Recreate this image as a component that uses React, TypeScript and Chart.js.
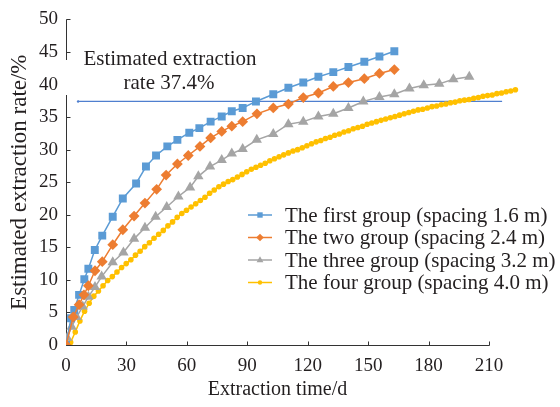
import React, { useEffect, useRef } from "react";
import { Chart, registerables } from "chart.js";

Chart.register(...registerables);

// ---------- data ----------
const xTickValues = [0, 30, 60, 90, 120, 150, 180, 210];
const yMin = 0;
const yMax = 50;
const yStep = 5;

const seriesNames = [
  "The first group (spacing 1.6 m)",
  "The two group (spacing 2.4 m)",
  "The three group (spacing 3.2 m)",
  "The four group (spacing 4.0 m)",
];

const blueDays = [0, 2.5, 4.1, 6.5, 9.1, 11.1, 14.3, 18.0, 23.2, 28.2, 34.8, 39.7, 44.7, 50.3, 55.3, 61.2, 66.2, 71.8, 77.3, 82.3, 87.7, 94.3, 102.9, 110.4, 117.8, 125.3, 132.7, 140.2, 148.1, 155.6, 163.0];
const blueRate = [0, 4.1, 5.4, 7.7, 10.1, 11.7, 14.6, 16.8, 19.7, 22.5, 24.8, 27.4, 29.1, 30.5, 31.5, 32.6, 33.3, 34.3, 35.1, 35.9, 36.4, 37.4, 38.5, 39.5, 40.3, 41.2, 41.9, 42.7, 43.5, 44.3, 45.1];

const orangeDays = [0, 3.6, 6.5, 8.9, 11.1, 14.4, 18.0, 23.2, 28.2, 33.8, 39.2, 45.0, 49.7, 55.3, 60.7, 66.5, 71.8, 77.3, 82.3, 87.7, 94.8, 102.9, 110.4, 117.8, 125.3, 132.7, 140.2, 148.1, 155.6, 163.0];
const orangeRate = [0, 4.3, 6.2, 7.7, 9.1, 11.4, 12.8, 15.4, 17.7, 19.8, 21.8, 23.9, 26.1, 27.8, 29.1, 30.5, 31.8, 32.8, 33.6, 34.3, 35.5, 36.4, 37.0, 38.0, 38.7, 39.7, 40.3, 40.9, 41.7, 42.3];

const grayDays = [0.6, 2.8, 5.3, 8.3, 11.1, 14.4, 17.7, 23.2, 28.5, 33.8, 39.2, 44.5, 50.0, 55.8, 61.6, 65.7, 71.5, 77.3, 82.3, 87.7, 94.7, 102.9, 110.4, 117.8, 125.3, 132.7, 140.2, 147.6, 155.6, 163.0, 170.5, 177.6, 185.3, 192.3, 200.2];
const grayRate = [1.1, 2.8, 4.3, 5.9, 7.4, 8.9, 10.5, 12.7, 14.2, 16.3, 18.0, 19.7, 21.2, 22.8, 24.2, 25.9, 27.4, 28.4, 29.4, 30.1, 31.5, 32.4, 33.9, 34.3, 35.1, 35.5, 36.4, 37.4, 38.1, 38.5, 39.4, 39.9, 40.1, 40.8, 41.2];

const yellowDays = [0, 2.3, 4.6, 6.9, 9.2, 11.5, 13.8, 16.1, 18.4, 20.7, 23, 25.3, 27.6, 29.9, 32.2, 34.5, 36.8, 39.1, 41.4, 43.7, 46, 48.3, 50.6, 52.9, 55.2, 57.5, 59.8, 62.1, 64.4, 66.7, 69, 71.3, 73.6, 75.9, 78.2, 80.5, 82.8, 85.1, 87.4, 89.7, 92, 94.3, 96.6, 98.9, 101.2, 103.5, 105.8, 108.1, 110.4, 112.7, 115, 117.3, 119.6, 121.9, 124.2, 126.5, 128.8, 131.1, 133.4, 135.7, 138, 140.3, 142.6, 144.9, 147.2, 149.5, 151.8, 154.1, 156.4, 158.7, 161, 163.3, 165.6, 167.9, 170.2, 172.5, 174.8, 177.1, 179.4, 181.7, 184, 186.3, 188.6, 190.9, 193.2, 195.5, 197.8, 200.1, 202.4, 204.7, 207, 209.3, 211.6, 213.9, 216.2, 218.5, 220.8, 223.1];
const yellowRate = [0, 0.4, 2.0, 3.7, 5.2, 6.4, 7.5, 8.3, 9.1, 9.9, 10.5, 11.2, 11.9, 12.5, 13.1, 13.8, 14.4, 15.1, 15.7, 16.4, 17.0, 17.6, 18.3, 18.9, 19.6, 20.2, 20.7, 21.2, 21.7, 22.2, 22.7, 23.3, 23.8, 24.3, 24.7, 25.1, 25.4, 25.8, 26.2, 26.6, 27.0, 27.3, 27.6, 27.9, 28.3, 28.6, 28.9, 29.2, 29.5, 29.8, 30.0, 30.3, 30.6, 30.9, 31.2, 31.4, 31.7, 31.9, 32.2, 32.4, 32.7, 32.9, 33.2, 33.4, 33.6, 33.9, 34.1, 34.3, 34.5, 34.7, 34.9, 35.1, 35.3, 35.5, 35.7, 35.9, 36.1, 36.2, 36.4, 36.6, 36.7, 36.9, 37.0, 37.2, 37.3, 37.5, 37.6, 37.7, 37.9, 38.0, 38.2, 38.3, 38.4, 38.6, 38.7, 38.9, 39.0, 39.2];

const refDays = [6, 216.5];
const refRate = [37.4, 37.4];

const annotationLines = ["Estimated extraction", "rate 37.4%"];
const xTitle = "Extraction time/d";
const yTitle = "Estimated extraction rate/%";

// ---------- styling ----------
const SERIF = '"Liberation Serif", "Times New Roman", serif';
const TEXT = "#231f20";
const AXIS = "#333333";
const colors = ["#5B9BD5", "#ED7D31", "#A5A5A5", "#FFC000"];
const pointStyles = ["rect", "rectRot", "triangle", "circle"];
const pointRadii = [5.6, 5.4, 6, 2.8];

const zip = (xs: number[], ys: number[]) =>
  xs.slice(0, Math.min(xs.length, ys.length)).map((x, i) => ({ x, y: ys[i] }));

function drawMarker(ctx: CanvasRenderingContext2D, style: string, x: number, y: number, r: number) {
  ctx.beginPath();
  if (style === "rect") {
    const s = r * Math.SQRT1_2;
    ctx.rect(x - s, y - s, 2 * s, 2 * s);
  } else if (style === "rectRot") {
    ctx.moveTo(x - r, y);
    ctx.lineTo(x, y - r);
    ctx.lineTo(x + r, y);
    ctx.lineTo(x, y + r);
    ctx.closePath();
  } else if (style === "triangle") {
    ctx.moveTo(x, y - r);
    ctx.lineTo(x + r * 0.9, y + r * 0.6);
    ctx.lineTo(x - r * 0.9, y + r * 0.6);
    ctx.closePath();
  } else {
    ctx.arc(x, y, r, 0, Math.PI * 2);
  }
  ctx.fill();
}

const decorPlugin = {
  id: "decor",
  beforeDatasetsDraw(chart: any) {
    const { ctx, scales } = chart;
    const xs = scales.x;
    const ys = scales.y;
    ctx.save();
    ctx.strokeStyle = AXIS;
    ctx.lineWidth = 1;
    const y0 = Math.round(ys.getPixelForValue(yMin)) + 0.5;
    const x0 = Math.round(xs.getPixelForValue(0)) + 0.5;
    const xEnd = xs.getPixelForValue(xTickValues[xTickValues.length - 1]);
    ctx.beginPath();
    ctx.moveTo(x0, y0);
    ctx.lineTo(Math.round(xEnd) + 0.5, y0);
    ctx.stroke();
    ctx.beginPath();
    ctx.moveTo(x0, y0);
    ctx.lineTo(x0, ys.getPixelForValue(yMax));
    ctx.stroke();
    xTickValues.forEach((v) => {
      const px = Math.round(xs.getPixelForValue(v)) + 0.5;
      ctx.beginPath();
      ctx.moveTo(px, y0);
      ctx.lineTo(px, y0 - 4);
      ctx.stroke();
    });
    for (let v = yMin; v <= yMax; v += yStep) {
      const py = Math.round(ys.getPixelForValue(v)) + 0.5;
      ctx.beginPath();
      ctx.moveTo(x0, py);
      ctx.lineTo(x0 + 4, py);
      ctx.stroke();
    }
    ctx.restore();
  },
  afterDatasetsDraw(chart: any) {
    const { ctx, scales } = chart;
    const xs = scales.x;
    ctx.save();
    ctx.fillStyle = "#ffffff";
    ctx.fillRect(62, 60, 14, 35);

    ctx.fillStyle = TEXT;
    ctx.font = `21px ${SERIF}`;
    ctx.textAlign = "center";
    ctx.textBaseline = "middle";
    ctx.fillText(annotationLines[0], 170, 59);
    ctx.fillText(annotationLines[1], 169, 83);

    ctx.font = `20px ${SERIF}`;
    const cx = (xs.getPixelForValue(xTickValues[0]) + xs.getPixelForValue(xTickValues[xTickValues.length - 1])) / 2;
    ctx.fillText(xTitle, cx, 390);

    const rows = [215, 237.5, 260, 282.5];
    ctx.textAlign = "left";
    ctx.font = `21px ${SERIF}`;
    for (let i = 0; i < 4; i++) {
      const ds = chart.data.datasets[i];
      const y = rows[i];
      ctx.strokeStyle = ds.borderColor;
      ctx.lineWidth = 1.5;
      ctx.beginPath();
      ctx.moveTo(248, y);
      ctx.lineTo(272, y);
      ctx.stroke();
      ctx.fillStyle = ds.borderColor;
      drawMarker(ctx, pointStyles[i], 260, y, i === 3 ? 2.2 : 3.8);
      ctx.fillStyle = TEXT;
      ctx.fillText(seriesNames[i], 285, y + 1);
    }
    ctx.restore();
  },
};

export default function App() {
  const ref = useRef<HTMLCanvasElement | null>(null);

  useEffect(() => {
    if (!ref.current) return;
    const series = [
      zip(blueDays, blueRate),
      zip(orangeDays, orangeRate),
      zip(grayDays, grayRate),
      zip(yellowDays, yellowRate),
    ];
    const datasets: any[] = series.map((data, i) => ({
      label: seriesNames[i],
      data,
      borderColor: colors[i],
      backgroundColor: colors[i],
      pointBackgroundColor: colors[i],
      pointBorderColor: colors[i],
      pointBorderWidth: 0,
      pointStyle: pointStyles[i],
      pointRadius: pointRadii[i],
      borderWidth: 1.5,
      tension: 0,
      order: i === 1 ? 0 : i + 1,
    }));
    datasets.push({
      label: "ref",
      data: zip(refDays, refRate),
      borderColor: "#4F7FCF",
      backgroundColor: "#4F7FCF",
      borderWidth: 1.2,
      pointRadius: [1.2, 0],
      pointBorderWidth: 0,
      order: 10,
    });

    const chart = new Chart(ref.current, {
      type: "line",
      data: { datasets },
      options: {
        animation: false,
        responsive: false,
        devicePixelRatio: 1,
        layout: { padding: { left: 0, right: 30.7, top: 13, bottom: 0 } },
        plugins: {
          legend: { display: false },
          tooltip: { enabled: false },
        },
        scales: {
          x: {
            type: "linear",
            min: 0,
            max: 230,
            afterBuildTicks: (scale: any) => {
              scale.ticks = xTickValues.map((v) => ({ value: v }));
            },
            afterFit: (scale: any) => {
              scale.height = 62;
            },
            grid: { display: false, drawTicks: false },
            border: { display: false },
            ticks: {
              autoSkip: false,
              maxRotation: 0,
              padding: 10,
              color: TEXT,
              font: { family: SERIF, size: 19 },
            },
          },
          y: {
            type: "linear",
            min: yMin,
            max: yMax,
            afterFit: (scale: any) => {
              scale.width = 66;
            },
            grid: { display: false, drawTicks: false },
            border: { display: false },
            ticks: {
              stepSize: yStep,
              padding: 8,
              color: TEXT,
              font: { family: SERIF, size: 19 },
            },
            title: {
              display: true,
              text: yTitle,
              color: TEXT,
              font: { family: SERIF, size: 23 },
              padding: { top: 6, bottom: 0 },
            },
          },
        },
      },
      plugins: [decorPlugin],
    });
    return () => chart.destroy();
  }, []);

  return (
    <div style={{ position: "fixed", left: 0, top: 0, width: 560, height: 407, background: "#fff" }}>
      <canvas ref={ref} width={560} height={407} style={{ width: 560, height: 407 }} />
    </div>
  );
}
